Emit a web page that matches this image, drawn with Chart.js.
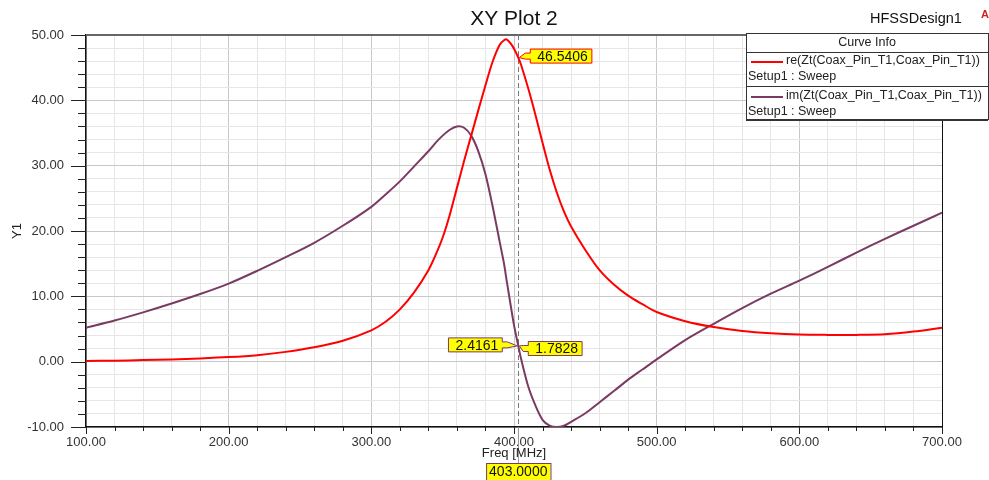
<!DOCTYPE html>
<html>
<head>
<meta charset="utf-8">
<script src="https://cdn.jsdelivr.net/npm/chart.js@4/dist/chart.umd.min.js"></script>
<style>
  html, body { margin: 0; padding: 0; background: #fff; }
  #wrap { width: 989px; height: 480px; position: relative; }
</style>
</head>
<body>
<div id="wrap"><canvas id="xyPlot"></canvas></div>
<script>
// sweep points (MHz)
const freq = [100, 120, 140, 160, 180, 200, 220, 240, 260, 280, 300, 310, 320, 330, 340, 345, 350, 355,
              360, 365, 370, 375, 380, 385, 390, 393, 395, 398, 400, 403, 405, 410, 415, 420, 425,
              430, 435, 440, 450, 460, 470, 480, 490, 500, 520, 540, 560, 580, 600, 620, 640, 660,
              680, 700];
// re(Zt(Coax_Pin_T1,Coax_Pin_T1))
const reZt = [0.1, 0.15, 0.25, 0.35, 0.5, 0.7, 1.0, 1.5, 2.2, 3.2, 4.8, 6.1, 8.0, 10.6, 14.0, 16.3, 19.0, 22.5,
              26.6, 30.7, 34.6, 38.5, 42.3, 45.9, 48.5, 49.2, 49.3, 48.6, 47.9, 46.54, 45.4, 41.8, 37.8, 33.5, 29.4,
              25.9, 23.0, 20.7, 17.1, 14.0, 11.8, 10.1, 8.8, 7.6, 6.2, 5.3, 4.7, 4.35, 4.15, 4.1, 4.1, 4.2,
              4.6, 5.2];
// im(Zt(Coax_Pin_T1,Coax_Pin_T1))
const imZt = [5.2, 6.3, 7.55, 8.9, 10.35, 11.95, 13.9, 16.0, 18.2, 20.8, 23.7, 25.6, 27.6, 29.9, 32.2, 33.5, 34.6, 35.5,
              36.0, 35.8, 34.6, 32.2, 28.7, 23.8, 18.3, 15.0, 12.2, 8.2, 5.6, 2.42, 0.4, -3.8, -6.7, -8.9, -9.8,
              -10.0, -9.8, -9.2, -7.9, -6.2, -4.5, -2.75, -1.2, 0.35, 3.3, 5.8, 8.2, 10.4, 12.4, 14.5, 16.7, 18.8,
              20.8, 22.8];

// marker m1
const markerFreq = 403;
const markerRe = 46.5406;
const markerIm = 2.4161;
const markerIm2 = 1.7828;

const RED = '#ff0000';
const PURPLE = '#7a3b63';
const FONT = '"Liberation Sans", Arial, sans-serif';

function toXY(ys) { return freq.map((f, i) => ({ x: f, y: ys[i] })); }

// yellow tag with a pointer
function drawTag(ctx, text, tipX, tipY, boxCY, side, border, gap) {
  ctx.save();
  ctx.font = '14px ' + FONT;
  const tw = ctx.measureText(text).width;
  const w = tw + 11, h = 14;
  const top = boxCY - h / 2, bot = boxCY + h / 2;
  const bx = side === 'right' ? tipX + gap : tipX - gap - w;
  ctx.beginPath();
  if (side === 'right') {
    ctx.moveTo(bx, top); ctx.lineTo(bx + w, top); ctx.lineTo(bx + w, bot); ctx.lineTo(bx, bot);
    ctx.lineTo(bx, boxCY + 3); ctx.lineTo(bx - 5, boxCY + 3); ctx.lineTo(tipX + 1, tipY);
    ctx.lineTo(bx - 5, boxCY - 3); ctx.lineTo(bx, boxCY - 3); ctx.closePath();
  } else {
    const r = bx + w;
    ctx.moveTo(r, top); ctx.lineTo(bx, top); ctx.lineTo(bx, bot); ctx.lineTo(r, bot);
    ctx.lineTo(r, boxCY + 3); ctx.lineTo(r + 5, boxCY + 3); ctx.lineTo(tipX - 1, tipY);
    ctx.lineTo(r + 5, boxCY - 3); ctx.lineTo(r, boxCY - 3); ctx.closePath();
  }
  ctx.fillStyle = '#ffff00'; ctx.fill();
  ctx.strokeStyle = border; ctx.lineWidth = 1; ctx.stroke();
  ctx.fillStyle = '#111'; ctx.textBaseline = 'middle'; ctx.textAlign = 'left';
  ctx.fillText(text, bx + 7, boxCY + 1);
  ctx.restore();
}

const hfssDecor = {
  id: 'hfssDecor',
  beforeDatasetsDraw(chart) {
    const { ctx, chartArea: a, scales: { x, y } } = chart;
    ctx.save();
    // minor / major tick marks
    ctx.strokeStyle = '#222';
    ctx.lineWidth = 1;
    y.ticks.forEach(t => {
      const py = Math.round(y.getPixelForValue(t.value)) + 0.5;
      const len = t.value % 10 === 0 ? 15 : 8;
      ctx.beginPath(); ctx.moveTo(a.left - len, py); ctx.lineTo(a.left, py); ctx.stroke();
    });
    x.ticks.forEach(t => {
      const px = Math.round(x.getPixelForValue(t.value)) + 0.5;
      const len = t.value % 100 === 0 ? 7 : 4;
      ctx.beginPath(); ctx.moveTo(px, a.bottom); ctx.lineTo(px, a.bottom + len); ctx.stroke();
    });
    // frame top / right
    ctx.strokeStyle = '#666';
    ctx.lineWidth = 2;
    ctx.beginPath(); ctx.moveTo(a.left, a.top); ctx.lineTo(a.right, a.top); ctx.stroke();
    ctx.strokeStyle = '#111';
    ctx.lineWidth = 1;
    ctx.beginPath(); ctx.moveTo(a.right + 0.5, a.top); ctx.lineTo(a.right + 0.5, a.bottom); ctx.stroke();
    // marker line
    const mx = Math.round(x.getPixelForValue(markerFreq)) + 0.5;
    ctx.strokeStyle = '#777';
    ctx.setLineDash([5, 3]);
    ctx.beginPath(); ctx.moveTo(mx, a.top); ctx.lineTo(mx, a.bottom); ctx.stroke();
    ctx.setLineDash([]);
    ctx.strokeStyle = '#999';
    ctx.beginPath(); ctx.moveTo(mx, a.bottom); ctx.lineTo(mx, 463); ctx.stroke();
    ctx.restore();
  },
  afterDraw(chart) {
    const { ctx, chartArea: a, scales: { x, y } } = chart;
    ctx.save();
    // titles
    ctx.fillStyle = '#111';
    ctx.textAlign = 'center';
    ctx.textBaseline = 'middle';
    ctx.font = '21px ' + FONT;
    ctx.fillText('XY Plot 2', (a.left + a.right) / 2, 19);
    ctx.font = '14.5px ' + FONT;
    ctx.textAlign = 'left';
    ctx.fillText('HFSSDesign1', 870, 19);
    ctx.fillStyle = '#d02020';
    ctx.font = 'bold 11px ' + FONT;
    ctx.fillText('A', 981, 15);
    ctx.fillStyle = '#222';
    ctx.font = '13px ' + FONT;
    ctx.textAlign = 'center';
    ctx.fillText('Freq [MHz]', (a.left + a.right) / 2, 453);
    ctx.save();
    ctx.translate(17, (a.top + a.bottom) / 2);
    ctx.rotate(-Math.PI / 2);
    ctx.fillText('Y1', 0, 0);
    ctx.restore();

    // curve info box
    const bx = 746, by = 33, bw = 242, bh = 86;
    ctx.fillStyle = '#fff';
    ctx.fillRect(bx, by, bw, bh);
    ctx.strokeStyle = '#333';
    ctx.lineWidth = 1;
    ctx.strokeRect(bx + 0.5, by + 0.5, bw, bh);
    ctx.beginPath(); ctx.moveTo(bx, by + bh + 1.5); ctx.lineTo(bx + bw, by + bh + 1.5); ctx.stroke();
    ctx.beginPath(); ctx.moveTo(bx, by + 19.5); ctx.lineTo(bx + bw, by + 19.5); ctx.stroke();
    ctx.beginPath(); ctx.moveTo(bx, by + 53.5); ctx.lineTo(bx + bw, by + 53.5); ctx.stroke();
    ctx.fillStyle = '#222';
    ctx.font = '12.5px ' + FONT;
    ctx.textAlign = 'center';
    ctx.fillText('Curve Info', bx + bw / 2, by + 10);
    ctx.textAlign = 'left';
    chart.data.datasets.forEach((ds, i) => {
      const ry = by + 29 + i * 35;
      ctx.strokeStyle = ds.borderColor;
      ctx.lineWidth = 2;
      ctx.beginPath(); ctx.moveTo(bx + 5, ry); ctx.lineTo(bx + 37, ry); ctx.stroke();
      ctx.fillStyle = '#222';
      ctx.fillText(ds.label, bx + 40, ry - 1);
      ctx.fillText('Setup1 : Sweep', bx + 2, ry + 15);
    });
    ctx.restore();

    // marker tags
    const mx = x.getPixelForValue(markerFreq);
    drawTag(ctx, markerRe.toFixed(4), mx, y.getPixelForValue(markerRe), y.getPixelForValue(markerRe) - 1.5, 'right', RED, 12);
    const imY = y.getPixelForValue(markerIm);
    drawTag(ctx, markerIm.toFixed(4), mx, imY, imY - 1, 'left', PURPLE, 16);
    drawTag(ctx, markerIm2.toFixed(4), mx, imY, y.getPixelForValue(markerIm2) - 1.5, 'right', PURPLE, 10);

    // frequency tag on the axis
    ctx.save();
    ctx.font = '14px ' + FONT;
    const ft = markerFreq.toFixed(4);
    const fw = ctx.measureText(ft).width + 6;
    ctx.fillStyle = '#ffff00';
    ctx.fillRect(mx - fw / 2, 463, fw, 18);
    ctx.strokeStyle = PURPLE;
    ctx.strokeRect(mx - fw / 2 + 0.5, 463.5, fw, 18);
    ctx.fillStyle = '#111';
    ctx.textAlign = 'center';
    ctx.textBaseline = 'middle';
    ctx.fillText(ft, mx, 472);
    ctx.restore();
  }
};

const xyPlot = new Chart(document.getElementById('xyPlot'), {
  type: 'line',
  data: {
    datasets: [
      {
        label: 're(Zt(Coax_Pin_T1,Coax_Pin_T1))',
        data: toXY(reZt),
        borderColor: RED,
        borderWidth: 2,
        pointRadius: 0,
        fill: false,
        tension: 0.3
      },
      {
        label: 'im(Zt(Coax_Pin_T1,Coax_Pin_T1))',
        data: toXY(imZt),
        borderColor: PURPLE,
        borderWidth: 2,
        pointRadius: 0,
        fill: false,
        tension: 0.3
      }
    ]
  },
  options: {
    responsive: true,
    maintainAspectRatio: false,
    animation: false,
    layout: { padding: { left: 0, top: 35, right: 47, bottom: 0 } },
    scales: {
      x: {
        type: 'linear',
        min: 100,
        max: 700,
        afterFit: s => { s.height = 53; },
        ticks: {
          stepSize: 20,
          autoSkip: false,
          maxRotation: 0,
          padding: 8,
          color: '#333',
          font: { family: FONT, size: 13 },
          callback: v => (v % 100 === 0 ? v.toFixed(2) : '')
        },
        grid: {
          drawTicks: false,
          color: c => (c.tick && c.tick.value % 100 === 0 ? '#c8c8c8' : '#e6e6e6')
        },
        border: { color: '#111', width: 1.5 }
      },
      y: {
        min: -10,
        max: 50,
        afterFit: s => { s.width = 86; },
        ticks: {
          stepSize: 2,
          autoSkip: false,
          padding: 22,
          color: '#333',
          font: { family: FONT, size: 13 },
          callback: v => (v % 10 === 0 ? v.toFixed(2) : '')
        },
        grid: {
          drawTicks: false,
          color: c => (c.tick && c.tick.value % 10 === 0 ? '#c8c8c8' : '#e6e6e6')
        },
        border: { color: '#111', width: 1.5 }
      }
    },
    plugins: {
      legend: { display: false },
      tooltip: { enabled: false }
    }
  },
  plugins: [hfssDecor]
});
</script>
</body>
</html>
